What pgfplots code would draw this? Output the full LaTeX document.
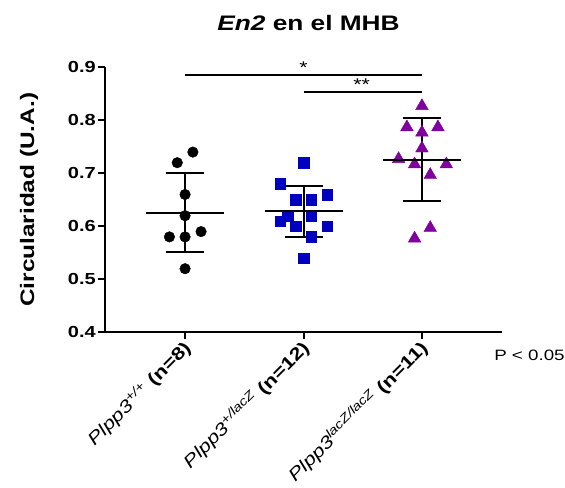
\documentclass[border=0pt]{standalone}
\usepackage{pgfplots}
\pgfplotsset{compat=1.18}
\usepackage{fontspec}
\setmainfont{Liberation Sans}[FakeStretch=1.25]

\definecolor{sqblue}{RGB}{0,0,192}
\definecolor{tripurple}{RGB}{128,0,160}

\newcommand{\fs}[1]{\fontsize{#1bp}{#1bp}\selectfont}

\begin{document}
\begin{tikzpicture}
\begin{axis}[
  at={(0,0)}, anchor=south west,
  scale only axis, width=397bp, height=265bp,
  xmin=0.324, xmax=3.676, ymin=0.4, ymax=0.9,
  clip=false,
  axis x line*=bottom, axis y line*=left,
  axis line style={line width=2bp},
  every tick/.style={black, line width=2bp},
  tick align=outside, major tick length=7bp,
  xtick={1,2,3},
  xticklabels={
    {\itshape Plpp3\textsuperscript{+/+} \bfseries\upshape (n=8)},
    {\itshape Plpp3\textsuperscript{+/lacZ} \bfseries\upshape (n=12)},
    {\itshape Plpp3\textsuperscript{lacZ/lacZ} \bfseries\upshape (n=11)}},
  xticklabel style={rotate=45, anchor=east, font=\fs{17.5}, inner sep=2bp,
    yshift=-6bp, xshift=0bp},
  ytick={0.4,0.5,0.6,0.7,0.8,0.9},
  yticklabel style={font=\fs{16}\bfseries, inner sep=2bp,
    /pgf/number format/.cd, fixed, fixed zerofill, precision=1, assume math mode=true},
  ylabel={Circularidad (U.A.)},
  ylabel style={font=\fs{19.5}\bfseries, at={(axis description cs:-0.191,0.5)},
    anchor=center},
  title={\textit{En2} en el MHB},
  title style={font=\fs{21}\bfseries, at={(axis description cs:0.5,1)},
    anchor=base, yshift=31bp, xshift=5bp},
]
% Plpp3 +/+
\addplot[only marks, mark=*, mark size=5.3bp, black] coordinates {
  (1.066,0.74) (0.934,0.72) (1,0.66) (1,0.62)
  (0.868,0.58) (1,0.58) (1.135,0.59) (1,0.52)};
% Plpp3 +/lacZ
\addplot[only marks, mark=square*, mark size=5.3bp, sqblue] coordinates {
  (2,0.72) (1.803,0.68) (1.934,0.65) (2.066,0.65) (2.2,0.66) (1.868,0.62)
  (2.066,0.62) (1.803,0.61) (1.934,0.60) (2.2,0.60) (2.066,0.58) (2,0.54)};
% Plpp3 lacZ/lacZ
\addplot[only marks, mark=triangle*, mark size=7.3bp, tripurple] coordinates {
  (3,0.827) (2.873,0.787) (3.135,0.787) (3,0.777) (3,0.747) (2.803,0.727)
  (2.938,0.717) (3.206,0.717) (3.07,0.697) (3.07,0.597) (2.938,0.577)};
% mean +- SD
\addplot[only marks, black, mark=-, mark size=39bp, mark options={line width=2bp},
  error bars/.cd, y dir=both, y explicit, error mark=-,
  error bar style={line width=2bp},
  error mark options={rotate=90, mark size=19bp, line width=2bp}]
  coordinates {(1,0.626) +- (0,0.075) (2,0.628) +- (0,0.048) (3,0.726) +- (0,0.078)};
% significance
\addplot[black, line width=2bp] coordinates {(1,0.886) (3,0.886)};
\addplot[black, line width=2bp] coordinates {(2,0.854) (3,0.854)};
\node[anchor=base, font=\fs{17}, inner sep=0pt] at (axis cs:2,0.888) {*};
\node[anchor=base, font=\fs{17}, inner sep=0pt] at (axis cs:2.49,0.856) {**};
\node[anchor=west, font=\fs{15}, inner sep=0pt] at (axis description cs:0.98,-0.0857) {P < 0.05};
\end{axis}
\path (-105bp,-147.7bp) rectangle (460bp,332.3bp);
\end{tikzpicture}
\end{document}
